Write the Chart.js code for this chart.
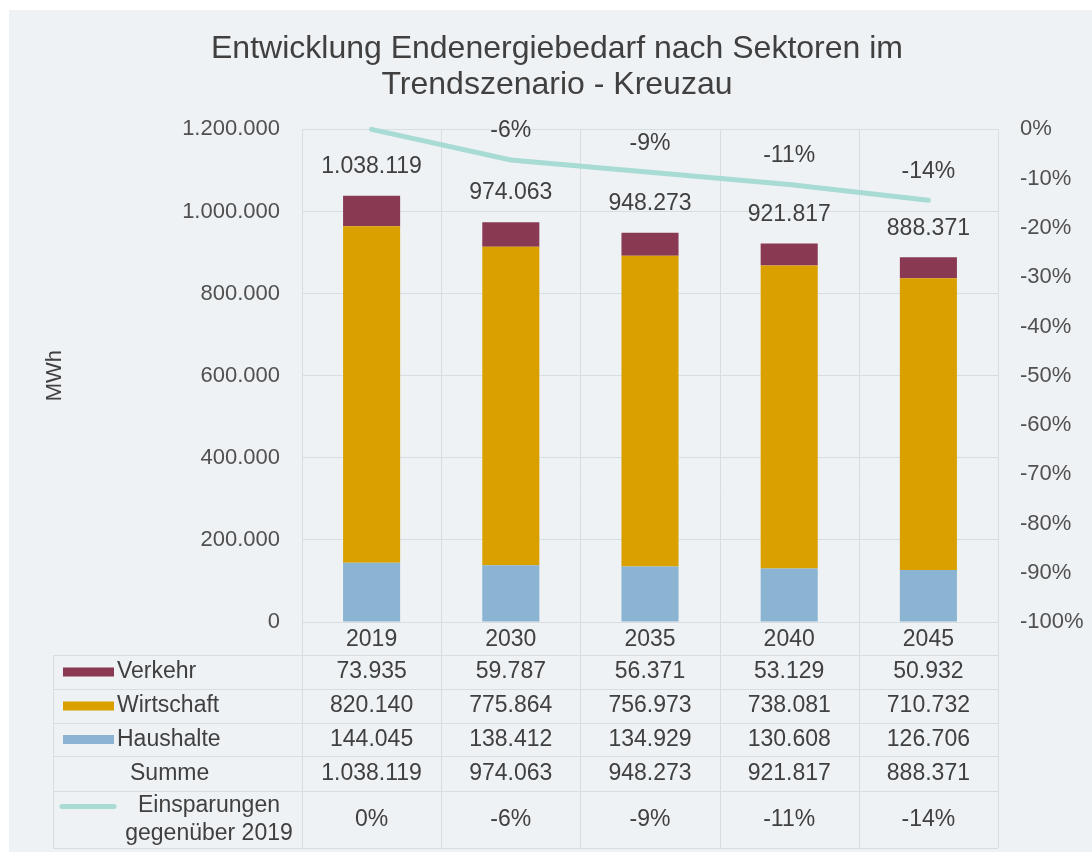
<!DOCTYPE html>
<html lang="de">
<head>
<meta charset="utf-8">
<title>Endenergiebedarf Kreuzau</title>
<script src="https://cdn.jsdelivr.net/npm/chart.js@4.4.1/dist/chart.umd.min.js"></script>
<style>
    html, body { margin: 0; padding: 0; background: #ffffff; }
    #chart { display: block; }
</style>
</head>
<body>
<canvas id="chart" width="1092" height="854"></canvas>
<script>
// Jahre (Kategorien der x-Achse)
const jahre = ['2019', '2030', '2035', '2040', '2045'];

// Endenergiebedarf je Sektor in MWh
const verkehr = [73935, 59787, 56371, 53129, 50932];
const wirtschaft = [820140, 775864, 756973, 738081, 710732];
const haushalte = [144045, 138412, 134929, 130608, 126706];
const summe = [1038119, 974063, 948273, 921817, 888371];

// Einsparungen gegenüber 2019 (Anteil, rechte Achse)
const einsparungen = [0, -0.062, -0.087, -0.112, -0.144];

const farben = {
    verkehr: '#893a52',
    wirtschaft: '#d9a000',
    haushalte: '#8ab4d1',
    linie: '#a8dbd4'
};
const hintergrund = '#eef2f5';
const gitter = '#d8dde2';
const textFarbe = '#404040';
const schrift = "'Liberation Sans', Arial, sans-serif";

// Tausenderpunkte wie in der Excel-Tabelle (1.038.119)
function formatZahl(v) {
    return String(Math.round(v)).replace(/\B(?=(\d{3})+(?!\d))/g, '.');
}

function formatProzent(v) {
    return Math.round(v * 100) + '%';
}

// Zeilen der Datentabelle unter dem Diagramm
const tabelle = [
    { label: ['Verkehr'], werte: verkehr, farbe: farben.verkehr, art: 'balken' },
    { label: ['Wirtschaft'], werte: wirtschaft, farbe: farben.wirtschaft, art: 'balken' },
    { label: ['Haushalte'], werte: haushalte, farbe: farben.haushalte, art: 'balken' },
    { label: ['Summe'], werte: summe },
    { label: ['Einsparungen', 'gegenüber 2019'], werte: einsparungen, farbe: farben.linie, art: 'linie', prozent: true }
];
const zeilenHoehen = [34, 34, 33, 35, 57];
const kopfHoehe = 33;
const tabelleLinks = 53;

function linie(ctx, x1, y1, x2, y2) {
    ctx.beginPath();
    ctx.moveTo(x1, y1);
    ctx.lineTo(x2, y2);
    ctx.stroke();
}

// Hintergrundfläche
const hintergrundPlugin = {
    id: 'hintergrund',
    beforeDraw(chart) {
        const ctx = chart.ctx;
        ctx.save();
        ctx.fillStyle = '#ffffff';
        ctx.fillRect(0, 0, chart.width, chart.height);
        ctx.fillStyle = hintergrund;
        ctx.fillRect(9, 10, chart.width - 9, chart.height - 12);
        ctx.restore();
    }
};

// Gitterlinien der Tabelle, Wertebeschriftungen und Tabelleninhalt
const tabellePlugin = {
    id: 'tabelle',
    beforeDatasetsDraw(chart) {
        const { ctx, chartArea: a } = chart;
        const n = jahre.length;
        const breite = (a.right - a.left) / n;
        const oben = a.bottom + kopfHoehe;
        const ys = [oben];
        zeilenHoehen.forEach(h => ys.push(ys[ys.length - 1] + h));
        const unten = ys[ys.length - 1];

        ctx.save();
        ctx.strokeStyle = gitter;
        ctx.lineWidth = 1;
        ys.forEach(y => linie(ctx, tabelleLinks, Math.round(y) + 0.5, a.right, Math.round(y) + 0.5));
        linie(ctx, tabelleLinks + 0.5, oben, tabelleLinks + 0.5, unten);
        for (let i = 0; i <= n; i++) {
            const x = Math.round(a.left + i * breite) + 0.5;
            linie(ctx, x, a.top, x, unten);
        }
        ctx.restore();
    },
    afterDatasetsDraw(chart) {
        const ctx = chart.ctx;
        const balken = chart.getDatasetMeta(3).data;
        const punkte = chart.getDatasetMeta(0).data;

        ctx.save();
        ctx.fillStyle = textFarbe;
        ctx.font = '23px ' + schrift;
        ctx.textAlign = 'center';
        ctx.textBaseline = 'middle';
        balken.forEach((b, i) => {
            ctx.fillText(formatZahl(summe[i]), b.x, b.y - 29);
        });
        punkte.forEach((p, i) => {
            if (i === 0) return;
            ctx.fillText(formatProzent(einsparungen[i]), p.x, p.y - 29);
        });
        ctx.restore();
    },
    afterDraw(chart) {
        const { ctx, chartArea: a, scales: { x } } = chart;
        let y = a.bottom + kopfHoehe;

        ctx.save();
        ctx.fillStyle = textFarbe;
        ctx.font = '23px ' + schrift;
        ctx.textBaseline = 'middle';

        tabelle.forEach((zeile, r) => {
            const h = zeilenHoehen[r];
            const mitte = y + h / 2;

            // Legendensymbol
            if (zeile.art === 'balken') {
                ctx.fillStyle = zeile.farbe;
                ctx.fillRect(63, mitte - 4.5, 51, 9);
            } else if (zeile.art === 'linie') {
                ctx.strokeStyle = zeile.farbe;
                ctx.lineWidth = 5;
                ctx.lineCap = 'round';
                linie(ctx, 62, mitte - 13, 114, mitte - 13);
            }

            // Zeilenbeschriftung
            ctx.fillStyle = textFarbe;
            if (zeile.art === 'linie') {
                ctx.textAlign = 'center';
                ctx.fillText(zeile.label[0], 209, mitte - 14);
                ctx.fillText(zeile.label[1], 209, mitte + 14);
            } else if (zeile.art === 'balken') {
                ctx.textAlign = 'left';
                ctx.fillText(zeile.label[0], 117, mitte);
            } else {
                ctx.textAlign = 'left';
                ctx.fillText(zeile.label[0], 130, mitte);
            }

            // Werte je Jahr
            ctx.textAlign = 'center';
            zeile.werte.forEach((v, i) => {
                const text = zeile.prozent ? formatProzent(v) : formatZahl(v);
                ctx.fillText(text, x.getPixelForValue(i), mitte);
            });
            y += h;
        });
        ctx.restore();
    }
};

Chart.defaults.font.family = schrift;
Chart.defaults.color = textFarbe;

new Chart(document.getElementById('chart'), {
    type: 'bar',
    data: {
        labels: jahre,
        datasets: [
            {
                type: 'line',
                label: 'Einsparungen gegenüber 2019',
                data: einsparungen,
                yAxisID: 'y1',
                borderColor: farben.linie,
                backgroundColor: farben.linie,
                borderWidth: 5,
                borderCapStyle: 'round',
                pointRadius: 0,
                tension: 0,
                clip: false
            },
            {
                label: 'Haushalte',
                data: haushalte,
                backgroundColor: farben.haushalte,
                barPercentage: 0.41,
                categoryPercentage: 1.0
            },
            {
                label: 'Wirtschaft',
                data: wirtschaft,
                backgroundColor: farben.wirtschaft,
                barPercentage: 0.41,
                categoryPercentage: 1.0
            },
            {
                label: 'Verkehr',
                data: verkehr,
                backgroundColor: farben.verkehr,
                barPercentage: 0.41,
                categoryPercentage: 1.0
            }
        ]
    },
    options: {
        responsive: false,
        animation: false,
        devicePixelRatio: 1,
        layout: {
            padding: { left: 22, right: 0, top: 0, bottom: 0 }
        },
        scales: {
            x: {
                stacked: true,
                grid: { display: false },
                border: { display: false },
                ticks: {
                    font: { size: 23 },
                    color: textFarbe,
                    padding: -4,
                    maxRotation: 0,
                    autoSkip: false
                },
                afterFit(scale) { scale.height = 232; }
            },
            y: {
                stacked: true,
                min: 0,
                max: 1200000,
                grid: { color: gitter, drawTicks: false },
                border: { display: false },
                ticks: {
                    stepSize: 200000,
                    padding: 22,
                    font: { size: 22 },
                    color: '#505050',
                    callback: v => formatZahl(v)
                },
                title: {
                    display: true,
                    text: 'MWh',
                    font: { size: 22 },
                    color: textFarbe,
                    padding: { top: 20, bottom: 0 }
                },
                afterFit(scale) { scale.width = 280; }
            },
            y1: {
                position: 'right',
                min: -1,
                max: 0,
                grid: { display: false, drawTicks: false },
                border: { display: false },
                ticks: {
                    stepSize: 0.1,
                    padding: 22,
                    font: { size: 22 },
                    color: '#505050',
                    callback: v => formatProzent(v)
                },
                afterFit(scale) { scale.width = 94; }
            }
        },
        plugins: {
            legend: { display: false },
            tooltip: { enabled: false },
            title: {
                display: true,
                text: ['Entwicklung Endenergiebedarf nach Sektoren im', 'Trendszenario - Kreuzau'],
                font: { size: 32, weight: 'normal', lineHeight: 1.1 },
                color: textFarbe,
                padding: { top: 32, bottom: 27 }
            }
        }
    },
    plugins: [hintergrundPlugin, tabellePlugin]
});
</script>
</body>
</html>
